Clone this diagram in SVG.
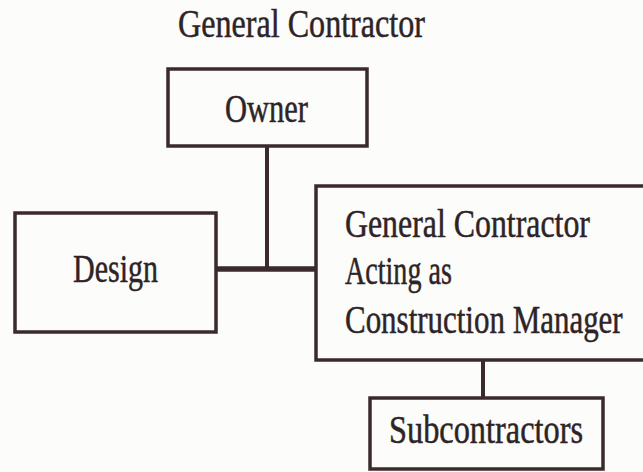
<svg xmlns="http://www.w3.org/2000/svg" width="643" height="472" viewBox="0 0 643 472">
<style>
.box{fill:none;stroke:#3a2a2c;stroke-width:3.5}
.conn{stroke:#3a2a2c;fill:none}
text{font-family:"Liberation Serif","Times New Roman",serif;font-size:40px;fill:#2e2426;stroke:#2e2426;stroke-width:0.5}
</style>
<rect x="0" y="0" width="643" height="472" fill="#fcfcfa"/>
<text id="title" x="178" y="37" font-size="37" textLength="247" lengthAdjust="spacingAndGlyphs">General Contractor</text>
<g id="connectors">
<line class="conn" x1="267" y1="146" x2="267" y2="269" stroke-width="4"/>
<line class="conn" x1="216" y1="269" x2="316" y2="269" stroke-width="5.5"/>
<line class="conn" x1="483" y1="360" x2="483" y2="398" stroke-width="4"/>
</g>
<g id="owner">
<rect class="box" x="168" y="69" width="199" height="77"/>
<text x="225" y="122" font-size="43" textLength="83" lengthAdjust="spacingAndGlyphs">Owner</text>
</g>
<g id="design">
<rect class="box" x="15" y="213" width="201" height="119"/>
<text x="73" y="282" font-size="42" textLength="85" lengthAdjust="spacingAndGlyphs">Design</text>
</g>
<g id="gc">
<rect class="box" x="316" y="186" width="330" height="174"/>
<g transform="scale(0.78,1)">
<text x="442.3" y="237" textLength="314" lengthAdjust="spacingAndGlyphs">General Contractor</text>
<text x="442.3" y="284" textLength="137" lengthAdjust="spacingAndGlyphs">Acting as</text>
<text x="442.3" y="333" textLength="356" lengthAdjust="spacingAndGlyphs">Construction Manager</text>
</g>
</g>
<g id="subcontractors">
<rect class="box" x="370" y="398" width="233" height="71"/>
<text x="389" y="443" font-size="38" textLength="194" lengthAdjust="spacingAndGlyphs">Subcontractors</text>
</g>
</svg>
